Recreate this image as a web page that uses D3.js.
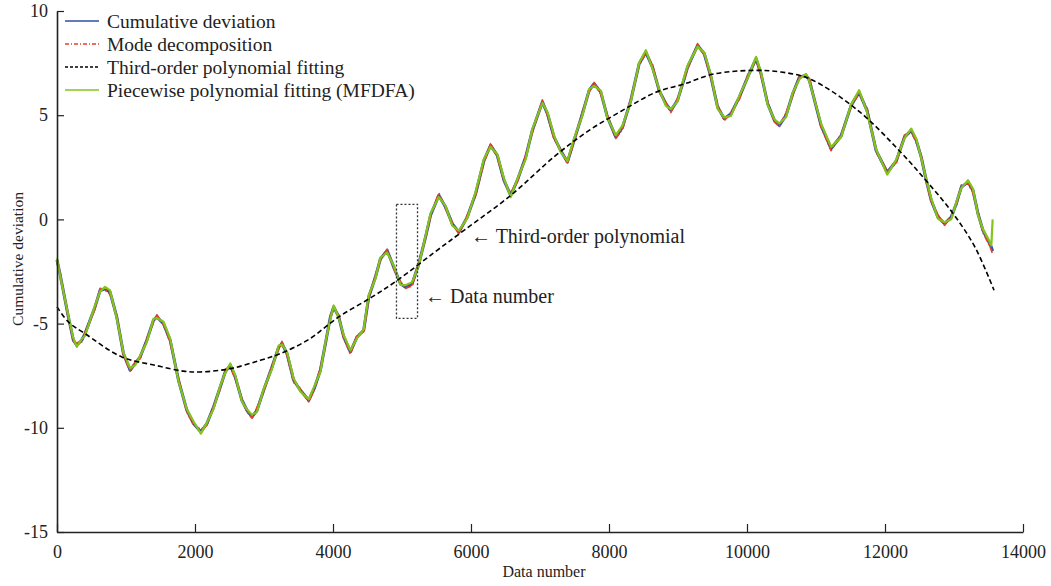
<!DOCTYPE html>
<html>
<head>
<meta charset="utf-8">
<script src="https://cdn.jsdelivr.net/npm/d3@7"></script>
<style>
  body { margin: 0; background: #fff; }
  svg text { font-family: "Liberation Serif", "Times New Roman", serif; fill: #222; }
</style>
</head>
<body>
<div id="chart"></div>
<script>
// data numbers where the traces were read
var dataNumber = [0,43,165,237,286,358,406,551,624,697,769,866,963,1060,1132,1205,1301,1398,1447,1543,
  1640,1761,1882,1979,2085,2172,2269,2366,2438,2511,2583,2680,2753,2826,2898,2995,3116,3213,3261,3333,
  3430,3527,3648,3730,3817,3890,3962,4010,4083,4155,4252,4349,4445,4518,4615,4687,4785,4881,4978,5051,
  5147,5244,5341,5414,5534,5631,5728,5825,5946,6067,6188,6284,6381,6478,6575,6671,6792,6889,7035,7107,
  7204,7300,7397,7494,7615,7712,7784,7881,7977,8099,8196,8316,8437,8534,8630,8727,8824,8897,8993,9090,
  9139,9284,9381,9478,9574,9671,9768,9889,10010,10131,10203,10300,10397,10469,10566,10663,10760,10856,10904,11074,
  11219,11364,11509,11625,11742,11872,12032,12163,12283,12380,12453,12525,12598,12670,12767,12864,12960,13033,13106,13203,
  13275,13348,13420,13493,13541,13560];

var cumDev = [-1.95,-2.61,-4.68,-5.80,-6.04,-5.80,-5.48,-4.20,-3.41,-3.33,
  -3.49,-4.68,-6.44,-7.24,-6.92,-6.60,-5.80,-4.84,-4.68,-5.00,
  -5.80,-7.72,-9.16,-9.80,-10.20,-9.80,-9.00,-8.04,-7.32,-7.00,
  -7.56,-8.68,-9.16,-9.48,-9.16,-8.20,-7.08,-6.12,-5.96,-6.44,
  -7.72,-8.20,-8.68,-8.10,-7.24,-5.96,-4.68,-4.20,-4.68,-5.64,
  -6.36,-5.64,-5.32,-3.72,-2.77,-1.89,-1.49,-2.29,-3.09,-3.25,
  -3.09,-2.13,-0.85,0.20,1.15,0.59,-0.20,-0.61,0.11,1.23,
  2.83,3.55,3.07,1.87,1.15,1.87,2.99,4.27,5.63,5.07,
  3.95,3.30,2.75,3.79,5.07,6.19,6.51,6.11,4.91,3.95,
  4.43,5.71,7.47,8.02,7.31,6.19,5.55,5.23,5.71,6.75,
  7.31,8.35,7.95,6.83,5.39,4.83,5.07,5.87,6.83,7.71,
  6.99,5.55,4.75,4.51,4.99,6.03,6.83,6.91,6.67,4.50,
  3.40,4.00,5.47,6.10,5.20,3.30,2.25,2.80,3.95,4.27,
  3.79,2.99,1.87,0.91,0.11,-0.20,0.11,0.75,1.55,1.79,
  1.39,0.27,-0.53,-1.01,-1.33,-1.52];

var modeDecomp = [-2.05,-2.53,-4.75,-5.85,-5.92,-5.88,-5.42,-4.30,-3.31,-3.39,
  -3.59,-4.60,-6.51,-7.29,-6.80,-6.68,-5.74,-4.94,-4.58,-5.06,
  -5.90,-7.64,-9.23,-9.85,-10.08,-9.88,-8.94,-8.14,-7.22,-7.06,
  -7.66,-8.60,-9.23,-9.53,-9.04,-8.28,-7.02,-6.22,-5.86,-6.50,
  -7.82,-8.12,-8.75,-8.15,-7.12,-6.04,-4.62,-4.30,-4.58,-5.70,
  -6.46,-5.56,-5.39,-3.77,-2.65,-1.97,-1.43,-2.39,-2.99,-3.31,
  -3.19,-2.05,-0.92,0.15,1.27,0.51,-0.14,-0.71,0.21,1.17,
  2.73,3.63,3.00,1.82,1.27,1.79,3.05,4.17,5.73,5.01,
  3.85,3.38,2.68,3.74,5.19,6.11,6.57,6.01,5.01,3.89,
  4.33,5.79,7.40,7.97,7.43,6.11,5.61,5.13,5.81,6.69,
  7.21,8.43,7.88,6.78,5.51,4.75,5.13,5.77,6.93,7.65,
  6.89,5.63,4.68,4.46,5.11,5.95,6.89,6.81,6.77,4.44,
  3.30,4.08,5.40,6.05,5.32,3.22,2.33,2.70,4.05,4.21,
  3.69,3.07,1.80,0.86,0.23,-0.28,0.17,0.65,1.65,1.73,
  1.29,0.35,-0.63,-1.11,-1.45,-1.68];

var mfdfa = [-1.87,-2.67,-4.63,-5.70,-6.12,-5.74,-5.58,-4.13,-3.46,-3.24,
  -3.41,-4.74,-6.39,-7.14,-7.00,-6.54,-5.90,-4.77,-4.73,-4.91,
  -5.72,-7.78,-9.11,-9.70,-10.28,-9.74,-9.10,-7.97,-7.37,-6.91,
  -7.48,-8.74,-9.11,-9.38,-9.24,-8.14,-7.18,-6.05,-6.01,-6.35,
  -7.64,-8.26,-8.63,-8.00,-7.32,-5.90,-4.78,-4.13,-4.73,-5.55,
  -6.28,-5.70,-5.27,-3.62,-2.85,-1.83,-1.59,-2.22,-3.14,-3.16,
  -3.01,-2.19,-0.80,0.30,1.07,0.65,-0.30,-0.54,0.06,1.32,
  2.91,3.49,3.12,1.97,1.07,1.93,2.89,4.34,5.58,5.16,
  4.03,3.24,2.80,3.89,4.99,6.25,6.41,6.18,4.86,4.04,
  4.51,5.65,7.52,8.12,7.23,6.25,5.45,5.30,5.66,6.84,
  7.39,8.29,8.00,6.93,5.31,4.89,4.97,5.94,6.78,7.80,
  7.07,5.49,4.80,4.61,4.91,6.09,6.73,6.98,6.62,4.59,
  3.48,3.94,5.52,6.20,5.12,3.36,2.15,2.87,3.90,4.36,
  3.87,2.93,1.92,1.01,0.03,-0.14,0.01,0.82,1.50,1.88,
  1.47,0.21,-0.48,-0.91,-1.25,0.00];

// third-order polynomial fit
var polyX = [0,164,406,939,1422,1833,2075,2511,2946,3237,3648,4083,4567,4930,5462,5897,6575,7228,7712,
  8196,8679,9090,9525,10106,10494,10904,11600,12235,12598,12960,13299,13580];
var polyY = [-4.20,-4.92,-5.48,-6.60,-7.00,-7.28,-7.32,-7.16,-6.76,-6.44,-5.76,-4.68,-3.72,-2.93,-1.60,-0.53,
  1.15,3.07,4.27,5.23,6.10,6.50,6.98,7.15,7.07,6.75,5.25,3.20,1.85,0.40,-1.30,-3.40];

var xTicks = [0,2000,4000,6000,8000,10000,12000,14000],
    yTicks = [10,5,0,-5,-10,-15];

var legendLabels = ["Cumulative deviation", "Mode decomposition",
  "Third-order polynomial fitting", "Piecewise polynomial fitting (MFDFA)"];

(function(){

    var width = 1051, height = 586,
        left = 57, right = 1023, top = 11, bottom = 532;

    var svg = d3.select("#chart").append("svg")
        .attr("width", width)
        .attr("height", height);

    var x = d3.scaleLinear().domain([0, 14000]).range([left, right]),
        y = d3.scaleLinear().domain([-15, 10]).range([bottom, top]);

    // series styles
    var styles = [
        {color: "#2f4fa6", width: 3, dash: null},
        {color: "#e2402c", width: 1.8, dash: "6,2,2,2"},
        {color: "#000", width: 1.6, dash: "5,3"},
        {color: "#84c41a", width: 2.2, dash: null}
    ];

    var line = d3.line()
        .x(function(d){ return x(d[0]); })
        .y(function(d){ return y(d[1]); });

    var series = [cumDev, modeDecomp, mfdfa];

    // blue, red then green on top
    [0, 1].forEach(function(i){
        svg.append("path")
            .datum(dataNumber.map(function(n, j){ return [n, series[i][j]]; }))
            .attr("fill", "none")
            .attr("stroke", styles[i].color)
            .attr("stroke-width", styles[i].width)
            .attr("stroke-dasharray", styles[i].dash)
            .attr("stroke-linejoin", "round")
            .attr("d", line);
    });

    svg.append("path")
        .datum(dataNumber.map(function(n, j){ return [n, mfdfa[j]]; }))
        .attr("fill", "none")
        .attr("stroke", styles[3].color)
        .attr("stroke-width", styles[3].width)
        .attr("stroke-linejoin", "round")
        .attr("d", line);

    // polynomial fit
    svg.append("path")
        .datum(polyX.map(function(n, j){ return [n, polyY[j]]; }))
        .attr("fill", "none")
        .attr("stroke", styles[2].color)
        .attr("stroke-width", styles[2].width)
        .attr("stroke-dasharray", styles[2].dash)
        .attr("d", line.curve(d3.curveCatmullRom));

    // axes, plain number labels
    var fmt = function(d){ return String(d); };

    var xAxis = svg.append("g")
        .attr("transform", "translate(0," + bottom + ")")
        .call(d3.axisBottom(x).tickValues(xTicks).tickFormat(fmt)
            .tickSizeInner(-8).tickSizeOuter(0).tickPadding(12));

    var yAxis = svg.append("g")
        .attr("transform", "translate(" + left + ",0)")
        .call(d3.axisLeft(y).tickValues(yTicks).tickFormat(fmt)
            .tickSizeInner(-7).tickSizeOuter(0).tickPadding(14));

    [xAxis, yAxis].forEach(function(a){
        a.select(".domain").attr("stroke", "#222").attr("stroke-width", 1.6);
        a.selectAll(".tick line").attr("stroke", "#222").attr("stroke-width", 1.2);
        a.selectAll(".tick text").style("font-size", "18px").attr("fill", "#222");
    });
    xAxis.selectAll(".tick text").attr("dy", "0.75em");
    yAxis.selectAll(".tick text").attr("x", -9);

    svg.append("text")
        .attr("x", 544)
        .attr("y", 577)
        .attr("text-anchor", "middle")
        .style("font-size", "16px")
        .text("Data number");

    svg.append("text")
        .attr("transform", "translate(23,259) rotate(-90)")
        .attr("text-anchor", "middle")
        .style("font-size", "15.5px")
        .text("Cumulative deviation");

    // legend
    var legend = svg.append("g").attr("transform", "translate(65,21)");
    legendLabels.forEach(function(t, i){
        var row = legend.append("g").attr("transform", "translate(0," + (i * 23) + ")");
        row.append("line")
            .attr("x1", 0).attr("x2", 34)
            .attr("stroke", styles[i].color)
            .attr("stroke-width", 1.5)
            .attr("stroke-dasharray", i == 1 ? "4,2,1,2" : i == 2 ? "3,2" : null);
        row.append("text")
            .attr("x", 42).attr("dy", "0.35em")
            .style("font-size", "19.5px")
            .text(t);
    });

    // annotations
    svg.append("rect")
        .attr("x", x(4920)).attr("y", y(0.72))
        .attr("width", x(5225) - x(4920))
        .attr("height", y(-4.75) - y(0.72))
        .attr("fill", "none")
        .attr("stroke", "#333")
        .attr("stroke-width", 1.3)
        .attr("stroke-dasharray", "2,2");

    var notes = [
        {text: "\u2190 Third-order polynomial", x: 471, y: 236},
        {text: "\u2190 Data number", x: 425, y: 296}
    ];
    notes.forEach(function(n){
        svg.append("text")
            .attr("x", n.x).attr("y", n.y)
            .attr("dy", "0.35em")
            .style("font-size", "20px")
            .text(n.text);
    });

})();
</script>
</body>
</html>
